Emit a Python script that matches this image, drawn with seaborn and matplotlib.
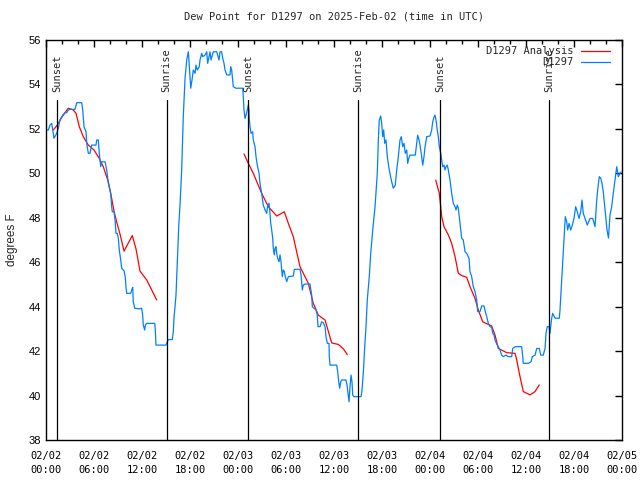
import pandas as pd
import matplotlib
matplotlib.use("Agg")
import matplotlib.pyplot as plt
import matplotlib.dates as mdates
import matplotlib.transforms as mtransforms
import seaborn as sns

# Start of the plotted window (UTC)
start = pd.Timestamp("2025-02-02 00:00")

# Station observations: hours after start, dew point (F)
obs_hours = [
    0.0, 0.29, 0.5, 0.71, 0.84, 1.0, 1.34, 1.54, 1.75, 2.09,
    2.38, 2.59, 2.79, 3.0, 3.63, 3.84, 4.46, 4.59, 4.75, 5.0,
    5.09, 5.29, 5.5, 5.71, 6.25, 6.34, 6.54, 6.66, 6.84, 6.96,
    7.38, 7.59, 7.79, 8.09, 8.21, 8.29, 8.5, 8.63, 8.75, 8.91,
    9.04, 9.16, 9.34, 9.46, 9.75, 9.91, 10.0, 10.09, 10.59, 10.71,
    10.84, 10.91, 11.09, 11.66, 11.96, 12.09, 12.16, 12.34, 12.41, 12.59,
    13.59, 13.66, 13.75, 15.0, 15.16, 15.29, 15.79, 15.91, 16.0, 16.13,
    16.25, 16.34, 16.46, 16.59, 16.75, 16.96, 17.16, 17.38, 17.59, 17.79,
    17.88, 18.09, 18.25, 18.41, 18.63, 18.75, 18.91, 19.16, 19.25, 19.46,
    19.59, 19.88, 20.09, 20.21, 20.38, 20.5, 20.63, 20.91, 21.34, 21.46,
    21.63, 21.75, 21.96, 22.09, 22.25, 22.38, 22.59, 23.0, 23.09, 23.21,
    23.41, 23.75, 24.59, 24.66, 24.75, 24.88, 25.0, 25.16, 25.29, 25.38,
    25.41, 25.5, 25.63, 25.84, 25.91, 26.13, 26.25, 26.41, 26.63, 26.75,
    26.96, 27.16, 27.38, 27.59, 27.71, 27.88, 28.0, 28.09, 28.21, 28.34,
    28.41, 28.54, 28.63, 28.75, 28.84, 28.96, 29.13, 29.25, 29.38, 29.46,
    29.54, 29.66, 29.79, 29.91, 30.09, 30.29, 30.91, 31.04, 31.75, 31.88,
    32.04, 32.16, 32.38, 33.0, 33.21, 33.29, 33.5, 33.75, 33.91, 34.0,
    34.25, 34.46, 34.66, 34.88, 35.0, 35.16, 35.38, 35.41, 35.5, 36.34,
    36.46, 36.59, 36.71, 36.84, 36.96, 37.5, 37.63, 37.75, 37.88, 38.0,
    38.13, 38.25, 38.34, 38.5, 39.38, 39.5, 39.66, 39.84, 40.0, 40.16,
    40.41, 40.59, 40.84, 41.13, 41.41, 41.54, 41.66, 41.84, 41.96, 42.09,
    42.21, 42.34, 42.5, 42.66, 42.91, 43.16, 43.41, 43.66, 43.84, 44.04,
    44.25, 44.41, 44.59, 44.75, 44.91, 45.09, 45.21, 45.34, 45.5, 46.16,
    46.34, 46.46, 46.63, 46.75, 46.96, 47.09, 47.25, 47.38, 47.59, 48.0,
    48.21, 48.34, 48.5, 48.63, 48.75, 48.91, 49.04, 49.16, 49.34, 49.46,
    49.59, 49.75, 49.88, 50.0, 50.16, 50.29, 50.5, 50.71, 50.91, 51.13,
    51.25, 51.41, 51.54, 51.75, 51.96, 52.16, 52.38, 52.59, 52.88, 53.0,
    53.21, 53.41, 53.63, 53.84, 53.96, 54.25, 54.46, 54.75, 54.91, 55.09,
    55.29, 55.5, 55.71, 55.84, 56.0, 56.13, 56.34, 56.54, 56.75, 56.96,
    57.16, 57.5, 57.79, 58.21, 58.34, 58.63, 59.46, 59.59, 59.66, 60.29,
    60.63, 60.79, 61.13, 61.34, 61.66, 61.84, 62.16, 62.38, 62.5, 62.66,
    62.88, 63.0, 63.21, 63.34, 63.63, 64.16, 64.25, 64.46, 64.59, 64.75,
    64.91, 65.09, 65.21, 65.38, 65.59, 65.79, 66.0, 66.21, 66.41, 66.63,
    66.84, 67.0, 67.16, 67.38, 67.66, 68.0, 68.34, 68.63, 68.84, 68.96,
    69.16, 69.34, 69.5, 69.66, 69.88, 70.13, 70.31, 70.5, 70.71, 70.91,
    71.13, 71.34, 71.54, 71.75, 71.88,
]
obs_values = [
    51.95, 51.95, 52.17, 52.25, 51.95, 51.58, 51.8, 52.03, 52.4, 52.62,
    52.73, 52.73, 52.85, 52.88, 52.88, 53.18, 53.18, 52.85, 52.1, 51.87,
    51.35, 50.9, 50.9, 51.27, 51.27, 51.5, 51.5, 50.9, 50.3, 50.52,
    50.52, 50.15, 49.55, 49.1, 48.5, 48.27, 48.27, 47.9, 47.3, 47.3,
    47.08, 46.55, 46.1, 45.72, 45.62, 45.32, 44.87, 44.6, 44.6, 44.75,
    44.87, 44.22, 43.93, 43.9, 43.93, 43.6, 43.17, 42.95, 43.17, 43.25,
    43.25, 42.95, 42.27, 42.27, 42.42, 42.52, 42.52, 42.87, 43.48, 44.0,
    44.52, 45.35, 46.47, 47.6, 48.57, 50.15, 52.55, 54.28, 55.1, 55.47,
    55.02, 53.83, 54.2, 54.65, 54.5, 54.87, 54.65, 54.8, 55.1, 55.4,
    55.25, 55.32, 55.47, 54.95, 55.25, 55.47, 55.1, 55.47, 55.47, 55.32,
    55.1, 55.47, 55.47, 55.18, 54.95, 54.65, 54.43, 54.43, 54.8, 54.65,
    53.9, 53.83, 53.83, 53.45, 52.85, 52.47, 52.62, 52.85, 53.07, 52.85,
    52.47, 52.1, 51.8, 51.87, 51.5, 51.2, 50.75, 50.37, 50.0, 49.55,
    49.1, 48.57, 48.35, 48.2, 48.57, 48.65, 48.2, 47.75, 47.45, 47.08,
    46.63, 46.33, 46.63, 46.7, 46.4, 46.17, 46.02, 46.33, 46.02, 45.65,
    45.35, 45.65, 45.58, 45.35, 45.13, 45.35, 45.38, 45.68, 45.68, 45.42,
    44.75, 44.97, 45.02, 45.02, 44.52, 44.0, 43.93, 43.85, 43.62, 43.1,
    43.1, 43.32, 43.28, 43.1, 42.65, 42.35, 42.35, 41.75, 41.37, 41.37,
    41.07, 40.62, 40.33, 40.62, 40.7, 40.7, 40.47, 40.1, 39.72, 40.4,
    40.92, 40.62, 40.02, 39.95, 39.95, 40.25, 41.0, 42.2, 43.1, 44.3,
    45.35, 46.4, 47.45, 48.5, 50.0, 51.5, 52.4, 52.58, 52.25, 51.65,
    51.95, 51.35, 51.5, 50.75, 50.15, 49.7, 49.33, 49.47, 50.15, 50.75,
    51.5, 51.65, 51.2, 51.35, 50.9, 51.05, 50.45, 50.67, 50.82, 50.82,
    51.35, 51.72, 51.5, 51.27, 50.75, 50.37, 50.75, 51.2, 51.65, 51.68,
    51.95, 52.32, 52.52, 52.62, 52.4, 51.95, 51.65, 51.2, 50.9, 50.6,
    50.3, 50.37, 50.15, 50.3, 50.37, 50.15, 49.7, 49.1, 48.65, 48.5,
    48.35, 48.57, 48.43, 47.75, 47.08, 47.0, 46.47, 46.4, 46.17, 45.57,
    45.35, 44.9, 44.67, 44.3, 43.78, 43.78, 44.03, 44.03, 43.78, 43.55,
    43.25, 43.1, 43.07, 42.8, 42.72, 42.5, 42.32, 42.2, 42.05, 41.82,
    41.75, 41.82, 41.75, 41.75, 42.12, 42.2, 42.2, 41.75, 41.45, 41.45,
    41.52, 41.75, 41.82, 42.12, 42.12, 41.82, 41.82, 42.12, 42.8, 43.1,
    43.1, 42.8, 43.48, 43.7, 43.48, 43.48, 43.85, 45.2, 46.1, 47.0,
    48.05, 47.82, 47.45, 47.75, 47.45, 47.67, 47.97, 48.5, 48.27, 47.97,
    48.27, 48.8, 48.2, 47.97, 47.67, 47.97, 47.97, 47.6, 48.8, 49.25,
    49.85, 49.78, 49.55, 49.17, 48.35, 47.45, 47.09, 48.12, 48.5, 49.1,
    49.7, 50.3, 49.85, 50.0, 50.06,
]

# Analysis: three separate runs
ana1_hours = [0.91, 1.41, 1.96, 2.79, 3.41, 3.75, 4.16, 4.66, 5.29, 6.0, 6.66, 7.16,
              7.79, 8.21, 8.5, 8.84, 9.25, 9.75, 10.79, 11.25, 11.75, 12.59, 13.84]
ana1_values = [51.95, 52.17, 52.52, 52.93, 52.85, 52.7, 52.1, 51.65, 51.27, 51.05, 50.67, 50.3,
               49.62, 48.87, 48.3, 47.8, 47.27, 46.5, 47.2, 46.6, 45.6, 45.2, 44.3]
ana2_hours = [24.75, 25.29, 25.91, 26.96, 27.79, 28.84, 29.79, 30.29, 30.91, 31.75,
              32.79, 33.41, 34.04, 34.88, 35.71, 36.54, 37.16, 37.66]
ana2_values = [50.87, 50.45, 50.0, 49.1, 48.5, 48.08, 48.27, 47.75, 47.15, 45.8,
               45.05, 44.15, 43.62, 43.4, 42.37, 42.3, 42.11, 41.84]
ana3_hours = [48.71, 49.16, 49.34, 49.46, 49.75, 50.29, 50.71, 51.13, 51.54, 51.96, 52.59, 53.0, 53.63,
              54.04, 54.59, 55.71, 56.13, 56.54, 57.59, 58.63, 58.84, 59.25, 59.66, 60.5, 61.13, 61.66]
ana3_values = [49.7, 49.1, 48.5, 48.05, 47.6, 47.23, 46.85, 46.25, 45.5, 45.4, 45.32, 44.9, 44.37,
               43.85, 43.32, 43.13, 42.72, 42.12, 41.93, 41.9, 41.6, 40.85, 40.18, 40.03, 40.18, 40.48]

sun_times = ["2025-02-02 01:25", "2025-02-02 15:05", "2025-02-03 01:17",
             "2025-02-03 15:02", "2025-02-04 01:17", "2025-02-04 14:54"]
sun_labels = ["Sunset", "Sunrise", "Sunset", "Sunrise", "Sunset", "Sunrise"]

rows = [("D1297", 0, h, v) for h, v in zip(obs_hours, obs_values)]
for seg, (hs, vs) in enumerate([(ana1_hours, ana1_values),
                                 (ana2_hours, ana2_values),
                                 (ana3_hours, ana3_values)]):
    rows += [("D1297 Analysis", seg, h, v) for h, v in zip(hs, vs)]
df = pd.DataFrame(rows, columns=["series", "seg", "hours", "dewpoint"])
df["time"] = start + pd.to_timedelta(df["hours"], unit="h")

sns.set_style("white")
plt.rcParams["font.family"] = ["DejaVu Sans Mono"]
plt.rcParams["font.size"] = 7.5

fig = plt.figure(figsize=(6.4, 4.8), dpi=100)
ax = fig.add_axes([46 / 640, 40 / 480, 576 / 640, 400 / 480])

sns.lineplot(data=df, x="time", y="dewpoint", hue="series", units="seg",
             estimator=None, sort=False,
             hue_order=["D1297 Analysis", "D1297"],
             palette={"D1297 Analysis": "#ff0000", "D1297": "#0080ff"},
             linewidth=0.9, ax=ax)

# sunrise / sunset markers
trans = mtransforms.blended_transform_factory(ax.transData, ax.transAxes)
for t, lab in zip(sun_times, sun_labels):
    xn = mdates.date2num(pd.Timestamp(t))
    ax.axvline(xn, ymin=0, ymax=0.85, color="black", lw=0.9)
    ax.text(xn, 0.87, lab, transform=trans, rotation=90, ha="center", va="bottom",
            fontsize=7.5)

ax.set_xlim(start, start + pd.Timedelta(hours=72))
ax.set_ylim(38, 56)
ax.set_yticks(range(38, 57, 2))
ax.xaxis.set_major_locator(mdates.HourLocator(byhour=range(0, 24, 6)))
ax.xaxis.set_minor_locator(mdates.HourLocator(byhour=range(0, 24, 2)))
ax.xaxis.set_major_formatter(mdates.DateFormatter("%m/%d\n%H:%M"))

ax.tick_params(which="both", direction="in", top=True, right=True, colors="black", width=1)
ax.tick_params(which="major", length=5)
ax.tick_params(which="minor", length=3)
ax.tick_params(axis="x", which="major", pad=8)
for lbl in ax.get_xticklabels():
    lbl.set_linespacing(1.5)
for lbl in ax.get_yticklabels():
    lbl.set_family(["Liberation Sans", "DejaVu Sans"])
    lbl.set_fontsize(8)
for sp in ax.spines.values():
    sp.set_color("black")
    sp.set_linewidth(1)

ax.set_xlabel("")
ax.set_ylabel("degrees F", family=["Liberation Sans", "DejaVu Sans"], fontsize=8.5, labelpad=8)
ax.set_title("Dew Point for D1297 on 2025-Feb-02 (time in UTC)", pad=15, fontsize=7.5)

handles, labels = ax.get_legend_handles_labels()
ax.legend(handles, labels, loc="upper right", bbox_to_anchor=(0.986, 0.995),
          borderaxespad=0, frameon=False, markerfirst=False,
          handlelength=2.8, handletextpad=0.7, labelspacing=0.1, fontsize=7.5)

fig.savefig("out.png", dpi=100)
